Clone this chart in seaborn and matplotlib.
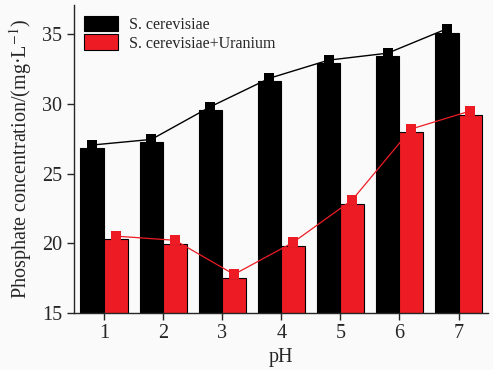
import numpy as np
import pandas as pd
import seaborn as sns
import matplotlib.pyplot as plt

# Dados
ph = [1, 2, 3, 4, 5, 6, 7]
grupos = ['S. cerevisiae', 'S. cerevisiae+Uranium']
cerevisiae = [26.85, 27.25, 29.55, 31.65, 32.95, 33.45, 35.1]
cerevisiae_u = [20.3, 19.95, 17.5, 19.8, 22.8, 27.95, 29.2]
# pontos da linha (marcadores quadrados acima das barras)
linha_cerevisiae = [27.05, 27.45, 29.8, 31.85, 33.15, 33.65, 35.4]
linha_cerevisiae_u = [20.5, 20.2, 17.75, 20.05, 23.1, 28.2, 29.5]

vermelho = '#ED1C24'
cores = ['black', vermelho]

df = pd.DataFrame({
    'pH': ph * 2,
    'valor': cerevisiae + cerevisiae_u,
    'grupo': [grupos[0]] * len(ph) + [grupos[1]] * len(ph),
})

sns.set_style('ticks')
plt.rcParams['font.family'] = ['Liberation Serif', 'DejaVu Serif']
plt.rcParams['mathtext.fontset'] = 'stix'

fig, ax = plt.subplots(figsize=(4.93, 3.70), dpi=100)
fig.patch.set_facecolor('#fafafa')
ax.set_facecolor('#fafafa')
fig.subplots_adjust(left=0.150, right=0.990, bottom=0.155, top=0.986)

sns.barplot(data=df, x='pH', y='valor', hue='grupo', palette=cores,
            saturation=1, width=0.8, edgecolor='black', linewidth=0.8, ax=ax)

# Linhas com marcadores quadrados sobre as barras
pos = np.arange(len(ph))
ax.plot(pos - 0.2, linha_cerevisiae, color='black', lw=1.0,
        marker='s', ms=7.2, mew=0, zorder=5)
ax.plot(pos + 0.2, linha_cerevisiae_u, color=vermelho, lw=0.9,
        marker='s', ms=7.2, mew=0, zorder=5)

ax.set_ylim(15, 37.1)
ax.set_xlim(-0.51, 6.5)
ax.set_yticks([15, 20, 25, 30, 35])
ax.set_xlabel('pH', fontsize=14.5, labelpad=3)
ax.set_ylabel('Phosphate concentration/(mg·L$^{-1}$)', fontsize=14.5, labelpad=6)
ax.tick_params(axis='both', labelsize=14.5, length=5, width=1.0, direction='out')

sns.despine(ax=ax)
for s in ['left', 'bottom']:
    ax.spines[s].set_linewidth(1.0)

sns.move_legend(ax, 'upper left', bbox_to_anchor=(0.0, 1.0), frameon=False,
                title=None, fontsize=11.5, handlelength=2.1, handleheight=1.15,
                handletextpad=0.7, labelspacing=0.1, borderaxespad=0.25)

plt.savefig('out.png', dpi=100, facecolor=fig.get_facecolor())
